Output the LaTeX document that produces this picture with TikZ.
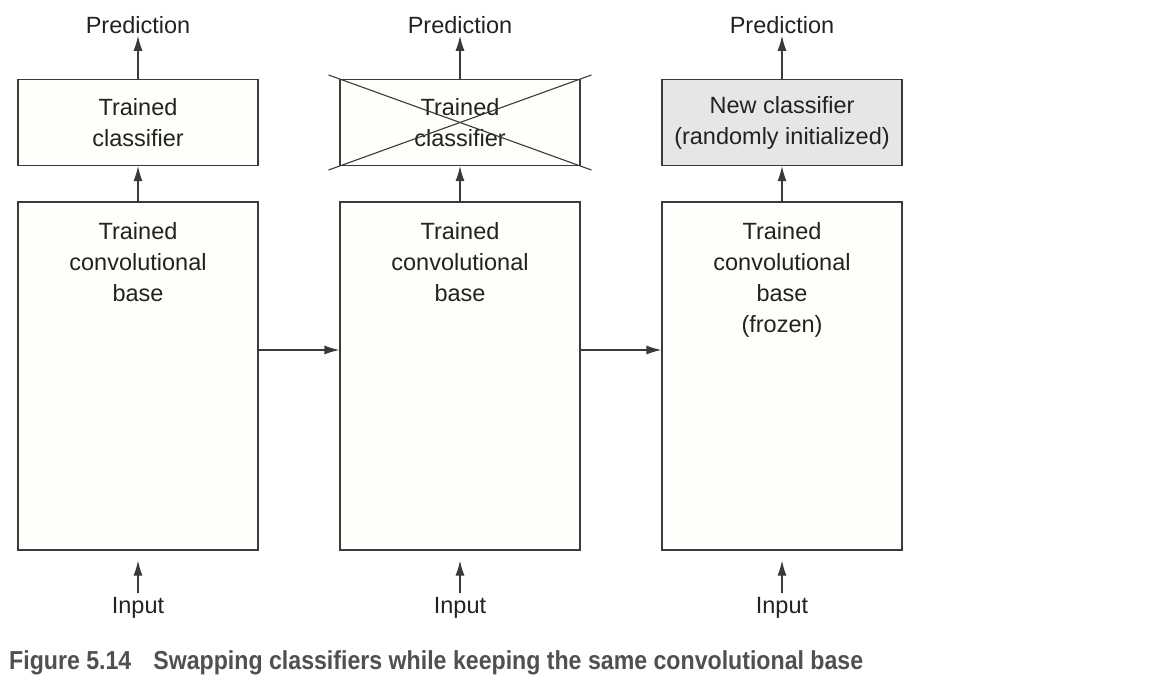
\documentclass[tikz,border=0pt]{standalone}
\usepackage{fontspec}
\setmainfont{Liberation Sans}
\newfontfamily\capfont[FakeStretch=0.89]{Liberation Sans}
\usetikzlibrary{arrows.meta,calc}
\definecolor{linec}{HTML}{3A3A3A}
\definecolor{boxfill}{HTML}{FEFEFB}
\definecolor{newfill}{HTML}{E6E6E6}
\definecolor{txtc}{HTML}{222222}
\definecolor{capc}{HTML}{505050}
\begin{document}
\begin{tikzpicture}[x=1pt,y=-1pt,
  box/.style={draw=linec,line width=1.2pt,fill=boxfill,minimum width=240pt,inner sep=0pt},
  clf/.style={box,minimum height=86pt},
  base/.style={box,minimum height=348pt},
  lbl/.style={text=txtc,font=\fontsize{23.5}{31}\selectfont,align=center,inner sep=0pt},
  arr/.style={draw=linec,line width=1.2pt,-{Latex[length=15pt,width=9pt]}},
  cross/.style={draw=linec,line width=1.1pt}]
\useasboundingbox (0,0) rectangle (1154,690);
\foreach \i/\x in {1/138,2/460,3/782}{
  \node[base] (b\i) at (\x,376) {};
  \node[lbl] (p\i) at (\x,25) {Prediction};
  \node[lbl] (in\i) at (\x,608) {Input};
}
\node[clf] (c1) at (138,122.5) {};
\node[clf] (c2) at (460,122.5) {};
\node[clf,fill=newfill] (c3) at (782,122.5) {};
\node[lbl] (t1) at (c1) {Trained\\classifier};
\node[lbl] (t2) at (c2) {Trained\\classifier};
\node[lbl] (t3) at (c3) {New classifier\\(randomly initialized)};
\node[lbl,anchor=north] (bt1) at (138,222) {Trained\\convolutional\\base};
\node[lbl,anchor=north] (bt2) at (460,222) {Trained\\convolutional\\base};
\node[lbl,anchor=north] (bt3) at (782,222) {Trained\\convolutional\\base\\(frozen)};
\draw[cross] ($(c2.north west)!-0.045!(c2.south east)$) -- ($(c2.south east)!-0.045!(c2.north west)$);
\draw[cross] ($(c2.south west)!-0.045!(c2.north east)$) -- ($(c2.north east)!-0.045!(c2.south west)$);
\foreach \i in {1,2,3}{
  \draw[arr] (c\i.north) -- ([yshift=-2pt]p\i.south);
  \draw[arr] (b\i.north) -- (c\i.south);
  \draw[arr] ([yshift=4pt]in\i.north) -- ([yshift=-10pt]b\i.south);
}
\draw[arr] ([yshift=26pt]b1.east) -- ([yshift=26pt]b2.west);
\draw[arr] ([yshift=26pt]b2.east) -- ([yshift=26pt]b3.west);
\node[anchor=west,inner sep=0pt,text=capc,font=\capfont\bfseries\fontsize{26}{30}\selectfont] (cap) at (9,663) {Figure 5.14\hspace{22pt}Swapping classifiers while keeping the same convolutional base};
\end{tikzpicture}
\end{document}
